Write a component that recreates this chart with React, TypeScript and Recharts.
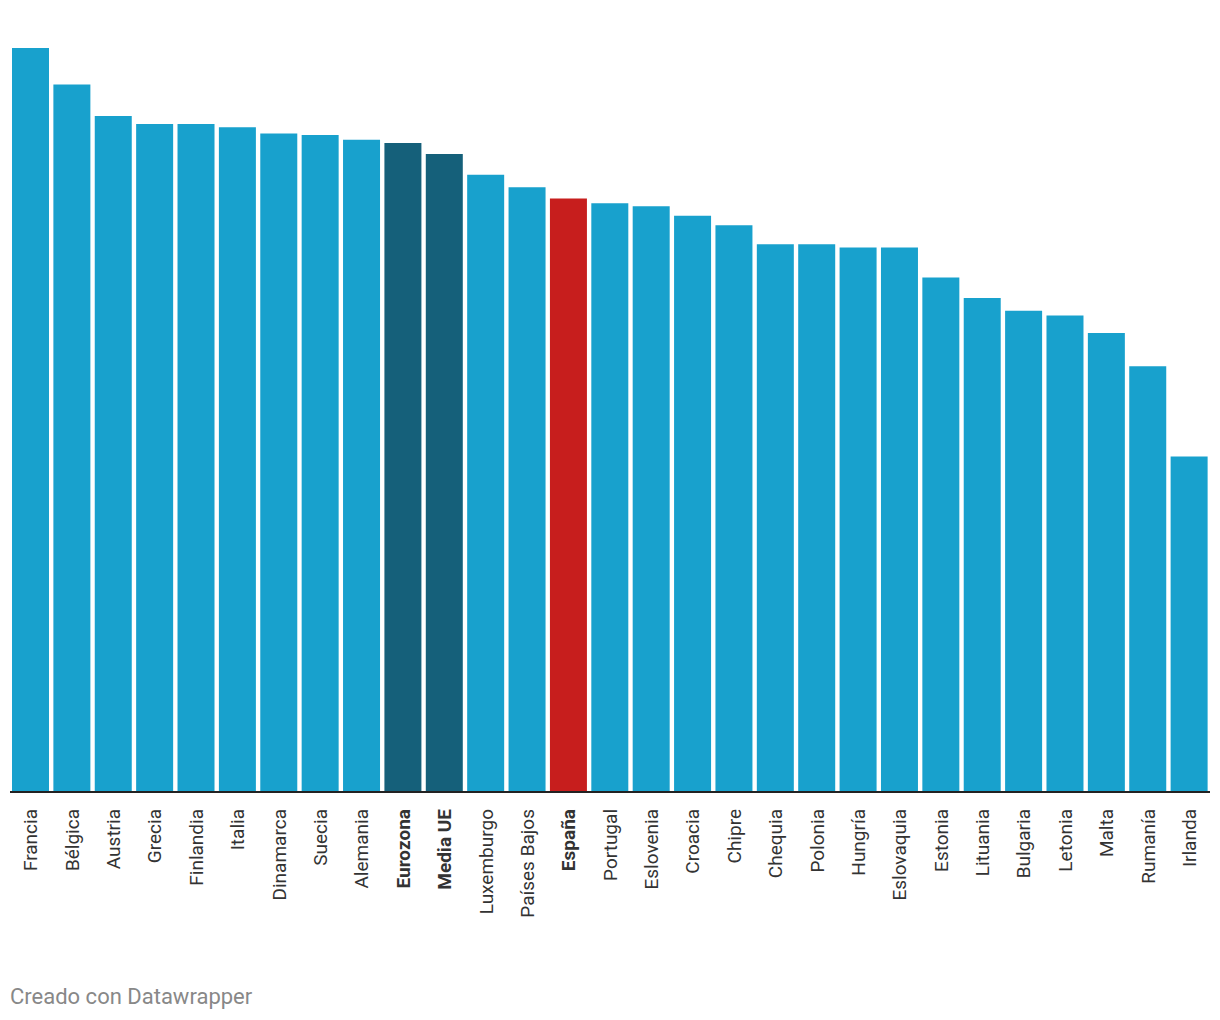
import React from "react";
import { BarChart, Bar, XAxis, YAxis, Cell } from "recharts";

const categories = [
  "Francia", "Bélgica", "Austria", "Grecia", "Finlandia", "Italia", "Dinamarca",
  "Suecia", "Alemania", "Eurozona", "Media UE", "Luxemburgo", "Países Bajos",
  "España", "Portugal", "Eslovenia", "Croacia", "Chipre", "Chequia", "Polonia",
  "Hungría", "Eslovaquia", "Estonia", "Lituania", "Bulgaria", "Letonia", "Malta",
  "Rumanía", "Irlanda",
];

const values = [
  47.0, 44.7, 42.7, 42.2, 42.2, 42.0, 41.6, 41.5, 41.2, 41.0, 40.3, 39.0, 38.2,
  37.5, 37.2, 37.0, 36.4, 35.8, 34.6, 34.6, 34.4, 34.4, 32.5, 31.2, 30.4, 30.1,
  29.0, 26.9, 21.2,
];

const aggregates = ["Eurozona", "Media UE"];
const highlighted = ["España"];

const COLOR_DEFAULT = "#18a1cd";
const COLOR_AGG = "#15607a";
const COLOR_HL = "#c71e1d";

const data = categories.map((name, i) => ({ name, value: values[i] }));

const colorFor = (name: string) =>
  highlighted.includes(name) ? COLOR_HL : aggregates.includes(name) ? COLOR_AGG : COLOR_DEFAULT;

const isBold = (name: string) => highlighted.includes(name) || aggregates.includes(name);

const FONT = "Roboto, 'Noto Sans', sans-serif";

const Tick = (props: any) => {
  const { x, y, payload } = props;
  const name = payload.value as string;
  return (
    <g transform={`translate(${x},${y})`}>
      <text
        transform="rotate(-90)"
        textAnchor="end"
        dy="0.35em"
        fontFamily={FONT}
        fontSize={19}
        fontWeight={isBold(name) ? 700 : 400}
        fill="#333333"
      >
        {name}
      </text>
    </g>
  );
};

export default function App() {
  return (
    <div style={{ position: "absolute", left: 0, top: 0, width: 1220, height: 1020, background: "#fff" }}>
      <BarChart
        width={1220}
        height={1020}
        data={data}
        margin={{ top: 48, right: 10, left: 10, bottom: 0 }}
        barCategoryGap={2}
      >
        <YAxis hide domain={[0, 47]} />
        <XAxis
          dataKey="name"
          height={228}
          interval={0}
          tickLine={false}
          tickSize={0}
          tickMargin={17}
          axisLine={{ stroke: "#222222", strokeWidth: 2 }}
          tick={<Tick />}
        />
        <Bar dataKey="value" isAnimationActive={false}>
          {data.map((d) => (
            <Cell key={d.name} fill={colorFor(d.name)} />
          ))}
        </Bar>
      </BarChart>
      <svg style={{ position: "absolute", left: 0, top: 0 }} width={1220} height={1020} pointerEvents="none">
        <text x={10} y={1004} fontFamily={FONT} fontSize={22} fill="#888888">
          Creado con Datawrapper
        </text>
      </svg>
    </div>
  );
}
